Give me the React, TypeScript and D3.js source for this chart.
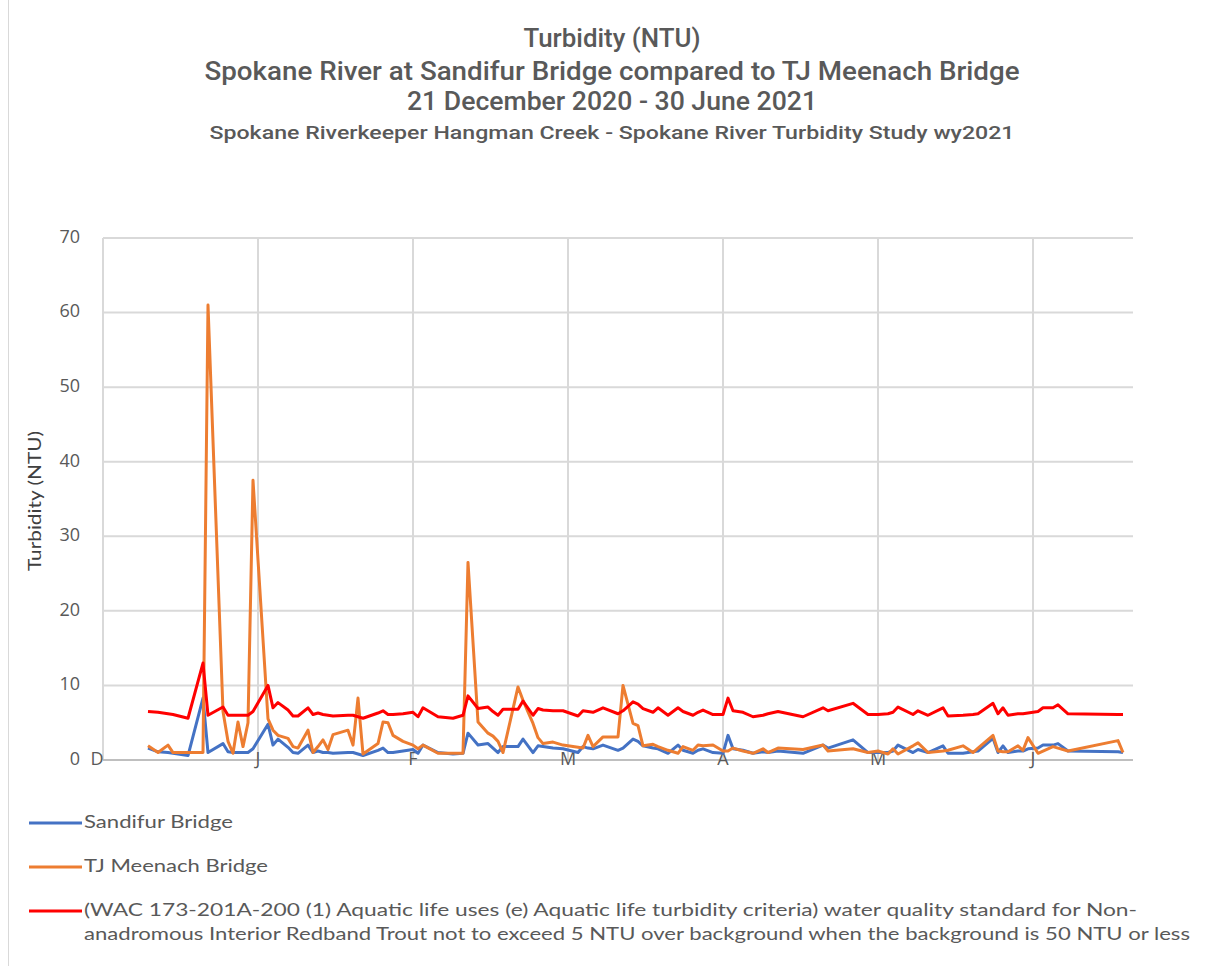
import React from 'react';
import * as d3 from 'd3';

// sample dates, one per reading
const dates = [
  '2020-12-10', '2020-12-12', '2020-12-14', '2020-12-15', '2020-12-18', '2020-12-21', '2020-12-22',
  '2020-12-25', '2020-12-26', '2020-12-27', '2020-12-28', '2020-12-29', '2020-12-30', '2020-12-31',
  '2021-01-03', '2021-01-04', '2021-01-05', '2021-01-07', '2021-01-08', '2021-01-09', '2021-01-11',
  '2021-01-12', '2021-01-13', '2021-01-14', '2021-01-15', '2021-01-16', '2021-01-19', '2021-01-20',
  '2021-01-21', '2021-01-22', '2021-01-25', '2021-01-26', '2021-01-27', '2021-01-28', '2021-01-30',
  '2021-02-01', '2021-02-02', '2021-02-03', '2021-02-06', '2021-02-09', '2021-02-11', '2021-02-12',
  '2021-02-14', '2021-02-16', '2021-02-17', '2021-02-18', '2021-02-19', '2021-02-22', '2021-02-23',
  '2021-02-25', '2021-02-26', '2021-02-27', '2021-03-01', '2021-03-03', '2021-03-06', '2021-03-07',
  '2021-03-08', '2021-03-09', '2021-03-11', '2021-03-14', '2021-03-15', '2021-03-17', '2021-03-18',
  '2021-03-19', '2021-03-21', '2021-03-22', '2021-03-24', '2021-03-26', '2021-03-27', '2021-03-29',
  '2021-03-30', '2021-03-31', '2021-04-02', '2021-04-04', '2021-04-05', '2021-04-06', '2021-04-08',
  '2021-04-10', '2021-04-12', '2021-04-13', '2021-04-15', '2021-04-20', '2021-04-24', '2021-04-25',
  '2021-04-30', '2021-05-03', '2021-05-05', '2021-05-07', '2021-05-08', '2021-05-09', '2021-05-12',
  '2021-05-13', '2021-05-15', '2021-05-18', '2021-05-19', '2021-05-22', '2021-05-24', '2021-05-25',
  '2021-05-28', '2021-05-29', '2021-05-30', '2021-05-31', '2021-06-02', '2021-06-03', '2021-06-04',
  '2021-06-06', '2021-06-07', '2021-06-09', '2021-06-10', '2021-06-12', '2021-06-22', '2021-06-23',
];

const sandifur = [
  1.6, 1.1, 1.0, 0.9, 0.6, 8.3, 1.0,
  2.2, 1.1, 1.0, 1.0, 1.0, 1.0, 1.5,
  4.8, 2.0, 2.8, 1.7, 1.0, 0.9, 2.0,
  1.0, 1.2, 1.0, 1.0, 0.9, 1.0, 1.0,
  0.8, 0.6, 1.3, 1.6, 1.0, 1.0, 1.2,
  1.4, 0.9, 2.0, 1.0, 0.8, 0.9, 3.6,
  2.0, 2.2, 1.6, 1.0, 1.8, 1.8, 2.8,
  1.0, 1.9, 1.8, 1.6, 1.5, 1.0, 1.8,
  1.6, 1.5, 2.0, 1.3, 1.6, 2.8, 2.5,
  1.9, 1.6, 1.5, 0.9, 2.0, 1.3, 0.9,
  1.3, 1.5, 1.0, 0.9, 3.3, 1.5, 1.3,
  0.9, 1.1, 1.0, 1.2, 0.9, 2.0, 1.6,
  2.7, 1.0, 1.0, 1.0, 1.2, 2.0, 1.0,
  1.4, 1.0, 1.9, 0.9, 0.9, 1.1, 1.2,
  2.9, 1.0, 1.9, 1.0, 1.2, 1.2, 1.5,
  1.6, 2.0, 2.0, 2.2, 1.2, 1.1, 1.0,
];

const meenach = [
  1.9, 1.0, 2.0, 1.0, 1.0, 1.0, 61.0,
  6.5, 2.5, 0.9, 5.1, 1.8, 5.0, 37.5,
  5.5, 4.0, 3.3, 2.9, 1.8, 1.6, 4.0,
  1.0, 1.8, 2.7, 1.4, 3.4, 4.0, 2.0,
  8.3, 0.8, 2.2, 5.1, 5.0, 3.3, 2.5,
  2.0, 1.5, 2.0, 0.9, 0.9, 0.9, 26.5,
  5.1, 3.6, 3.2, 2.5, 1.0, 9.8, 8.0,
  4.9, 3.0, 2.2, 2.4, 2.0, 1.7, 1.6,
  3.3, 1.8, 3.1, 3.1, 10.0, 4.9, 4.6,
  1.9, 2.1, 1.8, 1.3, 0.9, 1.8, 1.3,
  2.0, 1.9, 2.0, 1.2, 1.2, 1.6, 1.2,
  0.9, 1.5, 1.0, 1.6, 1.4, 2.0, 1.2,
  1.5, 1.0, 1.2, 0.8, 1.5, 0.8, 1.9,
  2.3, 1.0, 1.2, 1.3, 1.9, 1.0, 1.6,
  3.3, 1.2, 1.1, 1.1, 1.9, 1.3, 3.0,
  0.9, 1.2, 1.8, 1.6, 1.2, 2.6, 1.0,
];

const standard = [
  6.5, 6.4, 6.2, 6.1, 5.6, 13.0, 6.0,
  7.1, 6.0, 6.0, 6.0, 6.0, 6.0, 6.5,
  10.0, 7.0, 7.7, 6.7, 5.9, 5.9, 7.0,
  6.1, 6.3, 6.1, 6.0, 5.9, 6.0, 6.0,
  5.8, 5.6, 6.3, 6.6, 6.1, 6.1, 6.2,
  6.4, 5.8, 7.0, 5.8, 5.6, 6.0, 8.6,
  6.9, 7.1, 6.5, 6.0, 6.8, 6.8, 7.9,
  6.0, 6.9, 6.7, 6.6, 6.6, 5.9, 6.6,
  6.5, 6.4, 7.0, 6.2, 6.6, 7.8, 7.5,
  6.9, 6.4, 7.0, 6.0, 7.0, 6.5, 6.0,
  6.4, 6.7, 6.1, 6.1, 8.3, 6.6, 6.4,
  5.8, 6.0, 6.2, 6.5, 5.8, 7.0, 6.6,
  7.6, 6.1, 6.1, 6.2, 6.4, 7.1, 6.1,
  6.6, 6.0, 7.0, 5.9, 6.0, 6.1, 6.2,
  7.6, 6.2, 7.0, 6.0, 6.2, 6.2, 6.3,
  6.5, 7.0, 7.0, 7.4, 6.2, 6.1, 6.1,
];

const yTicks = [0, 10, 20, 30, 40, 50, 60, 70];
// excel date axis: major unit of 31 days starting 1 Dec
const xTickDates = ['2020-12-01', '2021-01-01', '2021-02-01', '2021-03-04', '2021-04-04', '2021-05-05', '2021-06-05'];
const xTickLabels = ['D', 'J', 'F', 'M', 'A', 'M', 'J'];

const titleLines = [
  'Turbidity (NTU)',
  'Spokane River at Sandifur Bridge compared to TJ Meenach Bridge',
  '21 December 2020  - 30 June 2021',
  'Spokane Riverkeeper Hangman Creek - Spokane River Turbidity Study wy2021',
];

const seriesNames = [
  'Sandifur Bridge',
  'TJ Meenach Bridge',
  '(WAC 173-201A-200 (1) Aquatic life uses (e) Aquatic life turbidity criteria) water quality standard for Non-|anadromous Interior Redband Trout not to exceed 5 NTU over background when the background is 50 NTU or less',
];
const seriesColors = ['#4472C4', '#ED7D31', '#FF0000'];

const parse = d3.timeParse('%Y-%m-%d');

export default function App() {
  const width = 1215;
  const height = 966;
  const margin = { top: 238, right: 82, bottom: 206, left: 103 };

  const x = d3.scaleTime()
    .domain([parse('2020-12-01') as Date, parse('2021-06-25') as Date])
    .range([margin.left, width - margin.right]);
  const y = d3.scaleLinear()
    .domain([0, 70])
    .range([height - margin.bottom, margin.top]);

  const pts = dates.map((d, i) => ({
    date: parse(d) as Date,
    vals: [sandifur[i], meenach[i], standard[i]],
  }));

  const lineFor = (k: number) => d3.line<any>()
    .x(d => x(d.date))
    .y(d => y(d.vals[k]))(pts) as string;

  const titleFont = "Roboto, 'DejaVu Sans Condensed', sans-serif";
  const bodyFont = "Lato, 'Open Sans', sans-serif";
  const titleSpecs = [
    { y: 40, size: 25, len: 177 },
    { y: 73, size: 25, len: 815 },
    { y: 103, size: 25, len: 410 },
    { y: 134, size: 19, len: 805 },
  ];

  const legendY = [823, 867, 911];
  const legendLens = [[149], [184], [1053, 1106]];

  return (
    <svg width={width} height={height} style={{ position: 'absolute', left: 0, top: 0, background: '#fff' }}>
      <rect x={8.5} y={-2} width={width} height={height + 4} fill="#fff" stroke="#d9d9d9" />

      {titleLines.map((t, i) => (
        <text key={i} x={612} y={titleSpecs[i].y} textAnchor="middle" dominantBaseline="middle"
          fontFamily={titleFont} fontWeight={500} fontSize={titleSpecs[i].size} fill="#595959"
          textLength={titleSpecs[i].len} lengthAdjust="spacingAndGlyphs">{t}</text>
      ))}

      {/* gridlines */}
      {yTicks.filter(t => t > 0).map(t => (
        <line key={'gy' + t} x1={margin.left} x2={width - margin.right} y1={y(t)} y2={y(t)}
          stroke="#d9d9d9" strokeWidth={2} />
      ))}
      {xTickDates.map(d => (
        <line key={'gx' + d} x1={x(parse(d) as Date)} x2={x(parse(d) as Date)} y1={margin.top} y2={y(0)}
          stroke="#d9d9d9" strokeWidth={2} />
      ))}
      <line x1={margin.left} x2={width - margin.right} y1={y(0)} y2={y(0)} stroke="#bfbfbf" strokeWidth={2} />

      {yTicks.map(t => (
        <text key={'ty' + t} x={80} y={y(t)} textAnchor="end" dominantBaseline="middle"
          fontFamily="'Open Sans', sans-serif" fontSize={18} fill="#595959">{t}</text>
      ))}
      {xTickDates.map((d, i) => (
        <text key={'tx' + d} x={x(parse(d) as Date) - (i === 0 ? 6 : 0)} y={y(0)} textAnchor="middle"
          dominantBaseline="middle" fontFamily="'Open Sans', sans-serif" fontSize={18} fill="#595959">
          {xTickLabels[i]}
        </text>
      ))}

      <text transform={`translate(36,${(y(0) + y(70)) / 2 + 2}) rotate(-90)`} textAnchor="middle"
        dominantBaseline="middle" fontFamily={bodyFont} fontSize={18} fill="#404040"
        textLength={140} lengthAdjust="spacingAndGlyphs">Turbidity (NTU)</text>

      {[0, 1, 2].map(k => (
        <path key={'s' + k} d={lineFor(k)} fill="none" stroke={seriesColors[k]} strokeWidth={3}
          strokeLinejoin="round" />
      ))}

      {seriesNames.map((n, k) => (
        <g key={'lg' + k}>
          <line x1={29} x2={82} y1={legendY[k]} y2={legendY[k]} stroke={seriesColors[k]} strokeWidth={3} />
          {n.split('|').map((part, j) => (
            <text key={j} x={84} y={legendY[k] + j * 24} dominantBaseline="middle" fontFamily={bodyFont}
              fontSize={18} fill="#595959" textLength={legendLens[k][j]} lengthAdjust="spacingAndGlyphs">
              {part}
            </text>
          ))}
        </g>
      ))}
    </svg>
  );
}
